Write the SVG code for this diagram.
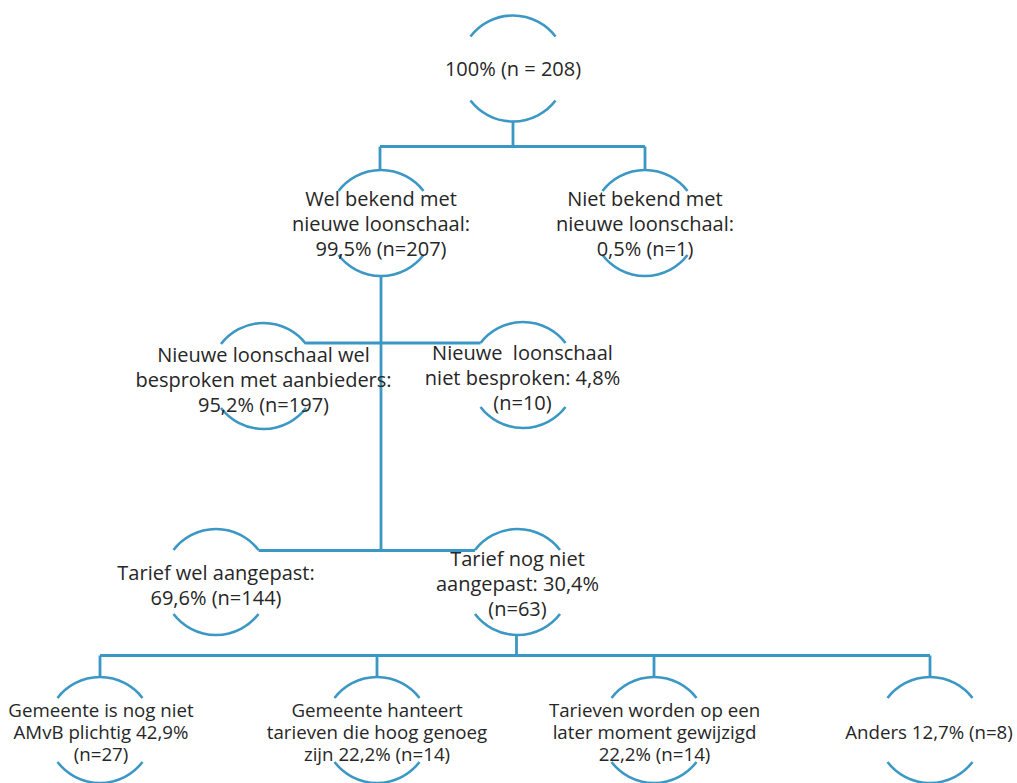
<svg xmlns="http://www.w3.org/2000/svg" xmlns:xlink="http://www.w3.org/1999/xlink" width="1017" height="783" viewBox="0 0 1017 783">
  <style>
    .arc { fill: none; stroke: #3b97c4; stroke-width: 2.6; }
    .conn { fill: none; stroke: #3b97c4; stroke-width: 2.8; }
    .t { font-family: "Open Sans", "Noto Sans", "Liberation Sans", sans-serif; font-size: 20px; fill: #262626; text-anchor: middle; }
    .s { font-size: 18.7px; }
  </style>
  <defs>
    <path id="arcs" class="arc" d="M-42.5,-32 A53.5,53.5 0 0 1 42.5,-32 M-42.5,32 A53.5,53.5 0 0 0 42.5,32"/>
  </defs>
  <rect width="1017" height="783" fill="#ffffff"/>

  <g id="connectors">
    <path class="conn" d="M513,121.5 V146.5 M380,146.5 H645 M380,146.5 V170 M645,146.5 V170"/>
    <path class="conn" d="M381,276 V551"/>
    <path class="conn" d="M306,343 H480.5"/>
    <path class="conn" d="M258.5,550.5 H475"/>
    <path class="conn" d="M516.5,635 V655.5 M100,655.5 H930 M100,655.5 V677 M377,655.5 V677 M654,655.5 V677 M930,655.5 V677"/>
  </g>

  <g id="n1">
    <use xlink:href="#arcs" x="513" y="68.5"/>
    <text class="t" x="513" y="76">100% (n = 208)</text>
  </g>

  <g id="n2a">
    <use xlink:href="#arcs" x="381" y="223"/>
    <text class="t" x="381" y="206">Wel bekend met</text>
    <text class="t" x="381" y="231">nieuwe loonschaal:</text>
    <text class="t" x="381" y="256">99,5% (n=207)</text>
  </g>

  <g id="n2b">
    <use xlink:href="#arcs" x="645" y="223"/>
    <text class="t" x="645" y="206">Niet bekend met</text>
    <text class="t" x="645" y="231">nieuwe loonschaal:</text>
    <text class="t" x="645" y="256">0,5% (n=1)</text>
  </g>

  <g id="n3a">
    <use xlink:href="#arcs" x="263.5" y="376"/>
    <text class="t" x="263.5" y="362">Nieuwe loonschaal wel</text>
    <text class="t" x="263.5" y="387">besproken met aanbieders:</text>
    <text class="t" x="263.5" y="412">95,2% (n=197)</text>
  </g>

  <g id="n3b">
    <use xlink:href="#arcs" x="523" y="375"/>
    <text class="t" x="522.5" y="360" style="white-space:pre" xml:space="preserve">Nieuwe  loonschaal</text>
    <text class="t" x="522.5" y="385">niet besproken: 4,8%</text>
    <text class="t" x="522.5" y="410">(n=10)</text>
  </g>

  <g id="n4a">
    <use xlink:href="#arcs" x="216" y="582"/>
    <text class="t" x="216" y="580">Tarief wel aangepast:</text>
    <text class="t" x="216" y="605">69,6% (n=144)</text>
  </g>

  <g id="n4b">
    <use xlink:href="#arcs" x="517.5" y="582"/>
    <text class="t" x="517.5" y="566">Tarief nog niet</text>
    <text class="t" x="517.5" y="591">aangepast: 30,4%</text>
    <text class="t" x="517.5" y="616">(n=63)</text>
  </g>

  <g id="n5a">
    <use xlink:href="#arcs" x="100" y="730"/>
    <text class="t s" x="101" y="717">Gemeente is nog niet</text>
    <text class="t s" x="101" y="739">AMvB plichtig 42,9%</text>
    <text class="t s" x="101" y="761">(n=27)</text>
  </g>

  <g id="n5b">
    <use xlink:href="#arcs" x="377" y="730"/>
    <text class="t s" x="377" y="717">Gemeente hanteert</text>
    <text class="t s" x="377" y="739">tarieven die hoog genoeg</text>
    <text class="t s" x="377" y="761">zijn 22,2% (n=14)</text>
  </g>

  <g id="n5c">
    <use xlink:href="#arcs" x="654" y="730"/>
    <text class="t s" x="654.5" y="717">Tarieven worden op een</text>
    <text class="t s" x="654.5" y="739">later moment gewijzigd</text>
    <text class="t s" x="654.5" y="761">22,2% (n=14)</text>
  </g>

  <g id="n5d">
    <use xlink:href="#arcs" x="930" y="730"/>
    <text class="t s" x="929" y="739">Anders 12,7% (n=8)</text>
  </g>
</svg>
